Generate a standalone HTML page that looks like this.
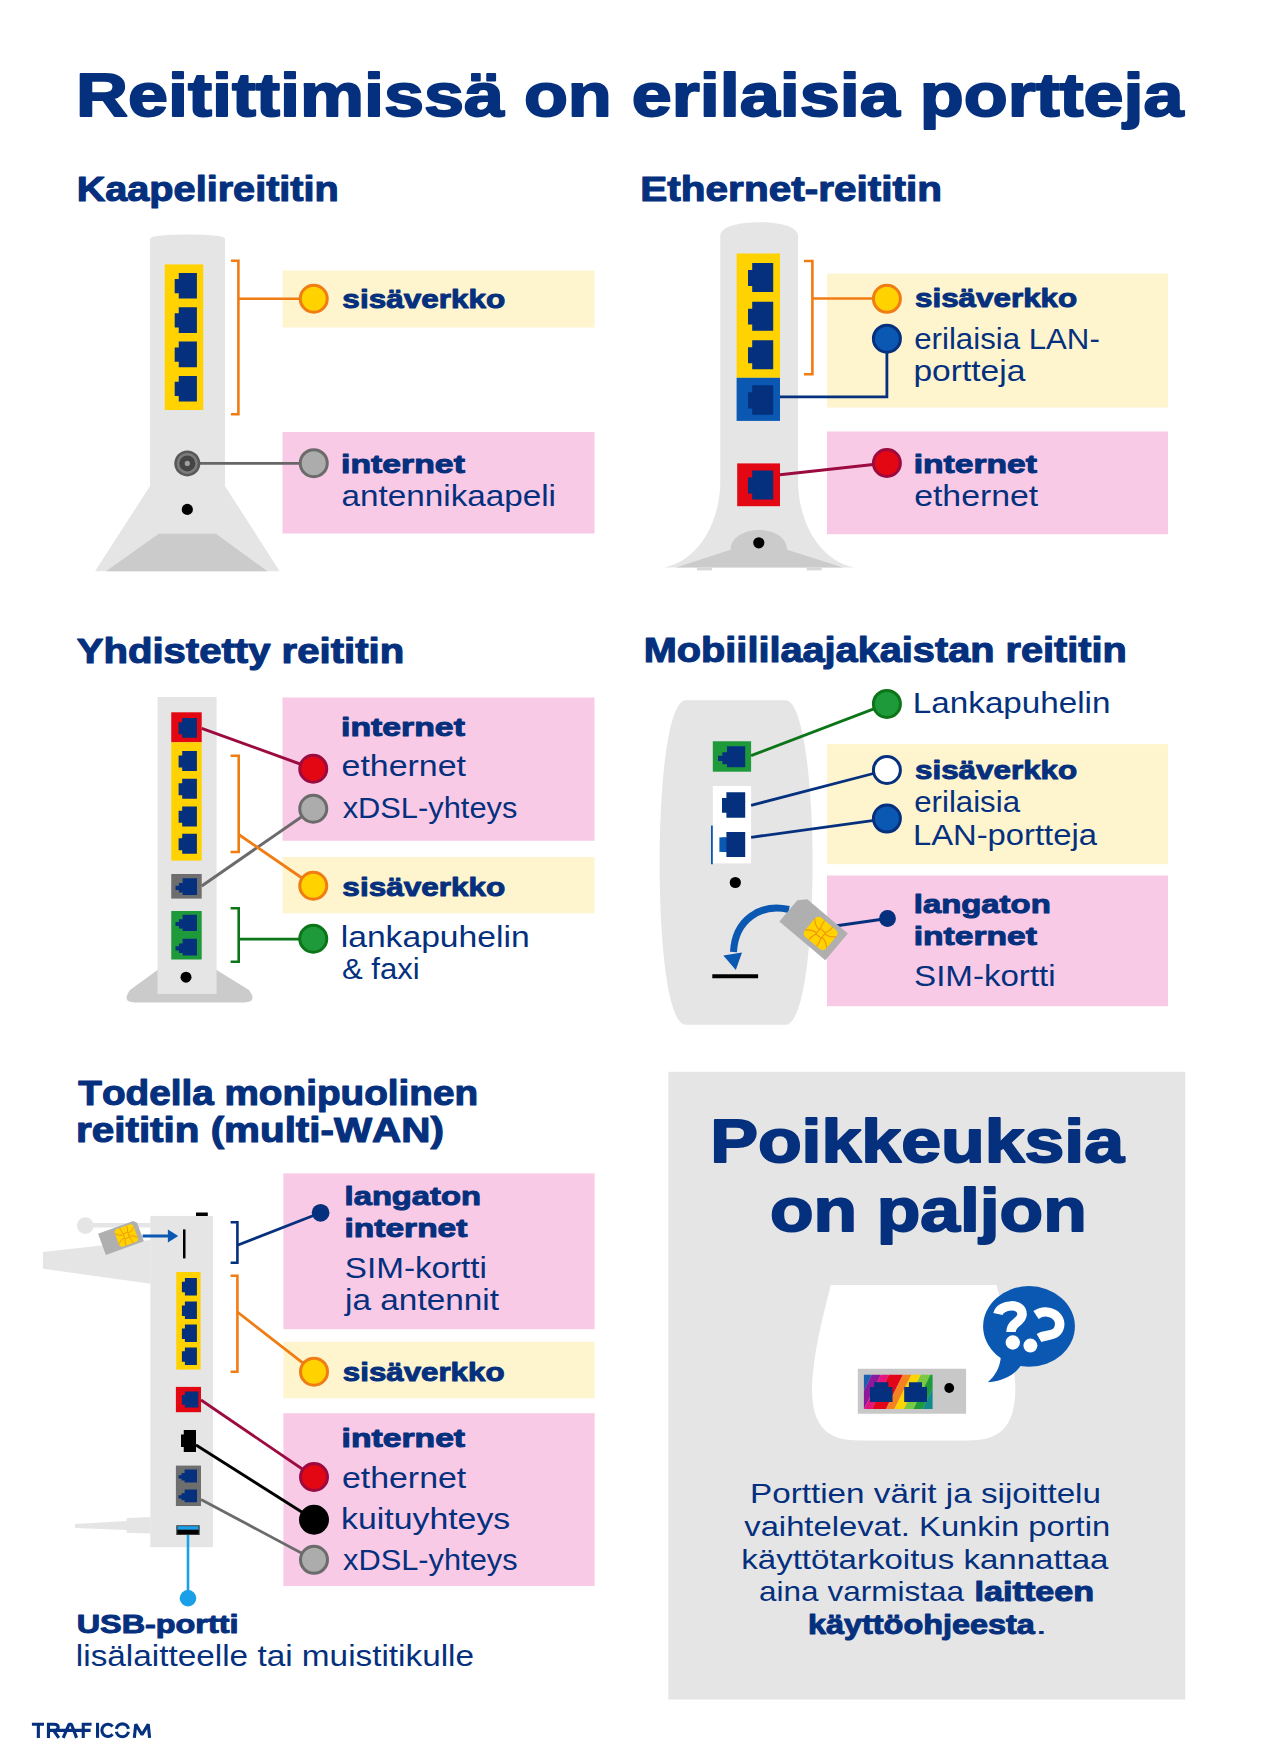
<!DOCTYPE html>
<html><head><meta charset="utf-8"><title>Reitittimissä on erilaisia portteja</title>
<style>
html,body{margin:0;padding:0;background:#fff;}
body{width:1280px;height:1760px;overflow:hidden;}
svg{display:block;font-family:"Liberation Sans",sans-serif;font-kerning:none;}
</style></head><body>
<svg width="1280" height="1760" viewBox="0 0 1280 1760">
<rect width="1280" height="1760" fill="#ffffff"/>
<text x="76.14" y="116.25" font-size="61.5" font-weight="bold" textLength="1107.46" lengthAdjust="spacingAndGlyphs" fill="#05307e" stroke="#05307e" stroke-width="1.9" stroke-linejoin="round" >Reitittimissä on erilaisia portteja</text>
<text x="76.65" y="200.55" font-size="34.2" font-weight="bold" textLength="262.16" lengthAdjust="spacingAndGlyphs" fill="#05307e" stroke="#05307e" stroke-width="1.1" stroke-linejoin="round" >Kaapelireititin</text>
<text x="640.34" y="200.55" font-size="34.2" font-weight="bold" textLength="301.62" lengthAdjust="spacingAndGlyphs" fill="#05307e" stroke="#05307e" stroke-width="1.1" stroke-linejoin="round" >Ethernet-reititin</text>
<text x="76.66" y="662.85" font-size="34.2" font-weight="bold" textLength="327.47" lengthAdjust="spacingAndGlyphs" fill="#05307e" stroke="#05307e" stroke-width="1.1" stroke-linejoin="round" >Yhdistetty reititin</text>
<text x="643.80" y="662.35" font-size="34.2" font-weight="bold" textLength="482.92" lengthAdjust="spacingAndGlyphs" fill="#05307e" stroke="#05307e" stroke-width="1.1" stroke-linejoin="round" >Mobiililaajakaistan reititin</text>
<text x="78.32" y="1104.85" font-size="34.2" font-weight="bold" textLength="399.73" lengthAdjust="spacingAndGlyphs" fill="#05307e" stroke="#05307e" stroke-width="1.1" stroke-linejoin="round" >Todella monipuolinen</text>
<text x="76.09" y="1141.65" font-size="34.2" font-weight="bold" textLength="367.77" lengthAdjust="spacingAndGlyphs" fill="#05307e" stroke="#05307e" stroke-width="1.1" stroke-linejoin="round" >reititin (multi-WAN)</text>
<rect x="282.50" y="270.50" width="312.00" height="57.00" fill="#fef5cf"/>
<rect x="282.50" y="432.00" width="312.00" height="101.50" fill="#f8cae6"/>
<path d="M150,239 Q150,234.5 187.5,234.5 Q225,234.5 225,239 V486 L279.7,571.3 H95 L150,486 Z" fill="#e5e5e5"/>
<path d="M158.75,533.8 H216 L267.5,571.3 H106 Z" fill="#cbcbcb"/>
<rect x="164.75" y="264.40" width="38.50" height="145.60" fill="#ffd200"/>
<path d="M178.75,273.00 H196.90 V298.60 H178.75 V293.22 H174.70 V278.89 H178.75 Z" fill="#05307e"/>
<path d="M178.75,307.30 H196.90 V332.90 H178.75 V327.52 H174.70 V313.19 H178.75 Z" fill="#05307e"/>
<path d="M178.75,341.60 H196.90 V367.20 H178.75 V361.82 H174.70 V347.49 H178.75 Z" fill="#05307e"/>
<path d="M178.75,375.90 H196.90 V401.50 H178.75 V396.12 H174.70 V381.79 H178.75 Z" fill="#05307e"/>
<path d="M231.00,260.70 L238.40,260.70 L238.40,414.30 L231.00,414.30" fill="none" stroke="#f07c14" stroke-width="2.6" />
<path d="M238.40,298.75 L313.75,298.75" fill="none" stroke="#f07c14" stroke-width="2.6" />
<circle cx="313.75" cy="298.75" r="13.50" fill="#ffd200" stroke="#f07c14" stroke-width="3"/>
<path d="M195.00,463.40 L313.75,463.40" fill="none" stroke="#666666" stroke-width="2.6" />
<circle cx="187.30" cy="463.40" r="13.00" fill="#595959"/>
<circle cx="187.30" cy="463.40" r="10.50" fill="#7d7d7d"/>
<circle cx="187.30" cy="463.40" r="8.00" fill="#454545"/>
<circle cx="187.30" cy="463.40" r="2.60" fill="#a0a0a0"/>
<circle cx="313.75" cy="463.20" r="13.50" fill="#acacac" stroke="#6b6b6b" stroke-width="3"/>
<circle cx="187.30" cy="509.40" r="5.60" fill="#000"/>
<text x="342.39" y="307.75" font-size="26.5" font-weight="bold" textLength="162.84" lengthAdjust="spacingAndGlyphs" fill="#05307e" stroke="#05307e" stroke-width="1.0" stroke-linejoin="round" >sisäverkko</text>
<text x="341.14" y="473.25" font-size="26.5" font-weight="bold" textLength="123.77" lengthAdjust="spacingAndGlyphs" fill="#05307e" stroke="#05307e" stroke-width="1.0" stroke-linejoin="round" >internet</text>
<text x="341.59" y="506.25" font-size="29.2" font-weight="normal" textLength="214.40" lengthAdjust="spacingAndGlyphs" fill="#05307e" >antennikaapeli</text>
<rect x="827.00" y="273.50" width="341.00" height="134.10" fill="#fef5cf"/>
<rect x="827.00" y="431.50" width="341.00" height="102.70" fill="#f8cae6"/>
<path d="M720.3,236 C720.3,226 740,222.2 759.2,222.2 C778.4,222.2 798.1,226 798.1,236 V481 C798.1,520 818,560 854.4,567.6 H664 C700.4,560 720.3,520 720.3,481 Z" fill="#e5e5e5"/>
<path d="M676,567.6 L730.6,549.8 C730.6,537 745,530 758.8,530 C772.6,530 787,537 787,549.8 L843,567.6 Z" fill="#cbcbcb"/>
<rect x="697.00" y="567.60" width="15.00" height="2.80" fill="#d8d8d8"/>
<rect x="806.60" y="567.60" width="15.10" height="2.80" fill="#d8d8d8"/>
<circle cx="758.80" cy="542.80" r="5.60" fill="#000"/>
<rect x="736.60" y="253.50" width="43.40" height="124.30" fill="#ffd200"/>
<path d="M752.20,263.00 H773.20 V292.00 H752.20 V285.91 H748.00 V269.96 H752.20 Z" fill="#05307e"/>
<path d="M752.20,301.70 H773.20 V330.70 H752.20 V324.61 H748.00 V308.66 H752.20 Z" fill="#05307e"/>
<path d="M752.20,340.30 H773.20 V369.30 H752.20 V363.21 H748.00 V347.26 H752.20 Z" fill="#05307e"/>
<rect x="736.60" y="377.80" width="43.40" height="43.10" fill="#0b58b3"/>
<path d="M752.20,385.30 H773.20 V414.70 H752.20 V408.53 H748.00 V392.36 H752.20 Z" fill="#05307e"/>
<path d="M804.00,261.00 L812.40,261.00 L812.40,374.30 L804.00,374.30" fill="none" stroke="#f07c14" stroke-width="2.6" />
<path d="M812.40,298.50 L886.90,298.50" fill="none" stroke="#f07c14" stroke-width="2.6" />
<path d="M780.00,396.90 L886.90,396.90 L886.90,338.70" fill="none" stroke="#05307e" stroke-width="2.8" />
<circle cx="886.90" cy="298.80" r="13.50" fill="#ffd200" stroke="#f07c14" stroke-width="3"/>
<circle cx="886.90" cy="338.70" r="13.50" fill="#0b58b3" stroke="#05307e" stroke-width="3"/>
<rect x="737.20" y="463.40" width="42.80" height="42.80" fill="#e30613"/>
<path d="M752.20,470.40 H773.20 V499.50 H752.20 V493.39 H748.00 V477.38 H752.20 Z" fill="#05307e"/>
<path d="M780.00,474.70 L886.90,463.00" fill="none" stroke="#9c0b3f" stroke-width="3" />
<circle cx="886.90" cy="463.00" r="13.50" fill="#e30613" stroke="#9c0b3f" stroke-width="3"/>
<text x="915.00" y="307.30" font-size="26.5" font-weight="bold" textLength="162.23" lengthAdjust="spacingAndGlyphs" fill="#05307e" stroke="#05307e" stroke-width="1.0" stroke-linejoin="round" >sisäverkko</text>
<text x="914.27" y="348.60" font-size="29.2" font-weight="normal" textLength="185.51" lengthAdjust="spacingAndGlyphs" fill="#05307e" >erilaisia LAN-</text>
<text x="913.44" y="381.00" font-size="29.2" font-weight="normal" textLength="111.86" lengthAdjust="spacingAndGlyphs" fill="#05307e" >portteja</text>
<text x="913.75" y="473.20" font-size="26.5" font-weight="bold" textLength="123.15" lengthAdjust="spacingAndGlyphs" fill="#05307e" stroke="#05307e" stroke-width="1.0" stroke-linejoin="round" >internet</text>
<text x="914.16" y="506.00" font-size="29.2" font-weight="normal" textLength="124.08" lengthAdjust="spacingAndGlyphs" fill="#05307e" >ethernet</text>
<rect x="282.50" y="697.50" width="312.00" height="143.25" fill="#f8cae6"/>
<rect x="282.50" y="857.00" width="312.00" height="56.25" fill="#fef5cf"/>
<path d="M157.5,970 L130,990 Q121,1002.5 135,1002.5 H244 Q258,1002.5 249,990 L216.6,970 Z" fill="#cbcbcb"/>
<rect x="157.50" y="697.00" width="59.10" height="297.00" fill="#e5e5e5"/>
<rect x="171.25" y="712.30" width="30.45" height="30.00" fill="#e30613"/>
<path d="M182.20,718.00 H196.90 V737.70 H182.20 V734.15 H178.60 V722.33 H182.20 Z" fill="#05307e"/>
<rect x="171.25" y="742.30" width="30.45" height="118.30" fill="#ffd200"/>
<path d="M182.20,751.00 H196.90 V771.00 H182.20 V767.40 H178.60 V755.40 H182.20 Z" fill="#05307e"/>
<path d="M182.20,778.75 H196.90 V798.75 H182.20 V795.15 H178.60 V783.15 H182.20 Z" fill="#05307e"/>
<path d="M182.20,806.40 H196.90 V826.40 H182.20 V822.80 H178.60 V810.80 H182.20 Z" fill="#05307e"/>
<path d="M182.20,833.75 H196.90 V853.75 H182.20 V850.15 H178.60 V838.15 H182.20 Z" fill="#05307e"/>
<rect x="171.25" y="874.00" width="30.45" height="24.60" fill="#6e6e6e"/>
<path d="M182.59,878.30 H197.00 V895.00 H182.59 V892.50 H178.94 V889.99 H175.50 V885.81 H178.94 V882.98 H182.59 Z" fill="#05307e"/>
<rect x="171.25" y="911.00" width="30.45" height="48.50" fill="#1f9a3b"/>
<path d="M182.59,914.70 H197.00 V931.00 H182.59 V928.56 H178.94 V926.11 H175.50 V922.04 H178.94 V919.26 H182.59 Z" fill="#05307e"/>
<path d="M182.59,938.75 H197.00 V955.60 H182.59 V953.07 H178.94 V950.55 H175.50 V946.33 H178.94 V943.47 H182.59 Z" fill="#05307e"/>
<circle cx="186.00" cy="977.20" r="5.50" fill="#000"/>
<path d="M230.60,755.70 L238.70,755.70 L238.70,852.00 L230.60,852.00" fill="none" stroke="#f07c14" stroke-width="2.6" />
<path d="M230.60,908.20 L238.70,908.20 L238.70,961.70 L230.60,961.70" fill="none" stroke="#0b7518" stroke-width="2.6" />
<path d="M201.70,728.30 L313.25,768.75" fill="none" stroke="#9c0b3f" stroke-width="3" />
<path d="M201.70,886.00 L313.25,808.75" fill="none" stroke="#6b6b6b" stroke-width="3" />
<path d="M238.70,834.50 L313.25,885.75" fill="none" stroke="#f07c14" stroke-width="2.8" />
<path d="M238.70,939.20 L313.25,939.20" fill="none" stroke="#0b7518" stroke-width="2.8" />
<circle cx="313.25" cy="768.75" r="13.50" fill="#e30613" stroke="#9c0b3f" stroke-width="3"/>
<circle cx="313.25" cy="808.75" r="13.50" fill="#acacac" stroke="#6b6b6b" stroke-width="3"/>
<circle cx="313.25" cy="885.75" r="13.50" fill="#ffd200" stroke="#f07c14" stroke-width="3"/>
<circle cx="313.25" cy="938.75" r="13.50" fill="#1f9a3b" stroke="#0b7518" stroke-width="3"/>
<text x="341.14" y="735.75" font-size="26.5" font-weight="bold" textLength="123.77" lengthAdjust="spacingAndGlyphs" fill="#05307e" stroke="#05307e" stroke-width="1.0" stroke-linejoin="round" >internet</text>
<text x="341.56" y="776.25" font-size="29.2" font-weight="normal" textLength="124.44" lengthAdjust="spacingAndGlyphs" fill="#05307e" >ethernet</text>
<text x="342.65" y="817.50" font-size="29.2" font-weight="normal" textLength="174.71" lengthAdjust="spacingAndGlyphs" fill="#05307e" >xDSL-yhteys</text>
<text x="342.39" y="895.75" font-size="26.5" font-weight="bold" textLength="162.84" lengthAdjust="spacingAndGlyphs" fill="#05307e" stroke="#05307e" stroke-width="1.0" stroke-linejoin="round" >sisäverkko</text>
<text x="340.73" y="947.00" font-size="29.2" font-weight="normal" textLength="188.95" lengthAdjust="spacingAndGlyphs" fill="#05307e" >lankapuhelin</text>
<text x="341.91" y="978.75" font-size="29.2" font-weight="normal" textLength="77.69" lengthAdjust="spacingAndGlyphs" fill="#05307e" >&amp; faxi</text>
<rect x="827.00" y="744.10" width="341.00" height="120.10" fill="#fef5cf"/>
<rect x="827.00" y="875.50" width="341.00" height="130.70" fill="#f8cae6"/>
<path d="M686,700.2 H785.5 C804,700.2 812.6,790 812.6,862 C812.6,940 804,1024.8 785.5,1024.8 H686 C667,1024.8 659.6,940 659.6,862 C659.6,790 667,700.2 686,700.2 Z" fill="#e5e5e5"/>
<rect x="712.80" y="741.25" width="38.30" height="30.45" fill="#1f9a3b"/>
<path d="M726.98,746.25 H745.20 V767.30 H726.98 V764.14 H722.35 V760.99 H718.00 V755.72 H722.35 V752.14 H726.98 Z" fill="#05307e"/>
<rect x="712.80" y="786.00" width="38.30" height="77.40" fill="#ffffff"/>
<path d="M726.40,792.30 H745.20 V817.80 H726.40 V812.70 H722.00 V797.91 H726.40 Z" fill="#05307e"/>
<path d="M726.40,831.90 H745.20 V856.90 H726.40 V851.90 H722.00 V837.40 H726.40 Z" fill="#05307e"/>
<rect x="719.40" y="837.40" width="7.00" height="14.50" fill="#0b58b3"/>
<path d="M711.90,825.60 L711.90,864.20" fill="none" stroke="#0b58b3" stroke-width="1.8" />
<circle cx="735.30" cy="882.50" r="5.60" fill="#000"/>
<path d="M712.30,976.25 L758.10,976.25" fill="none" stroke="#000" stroke-width="4" />
<path d="M789,909.5 C760,903 735,920 733.5,952" fill="none" stroke="#0b58b3" stroke-width="7"/>
<path d="M723.3,955.5 L742,952.5 L735.8,970 Z" fill="#0b58b3"/>
<path d="M751.10,755.60 L886.90,703.90" fill="none" stroke="#0b7518" stroke-width="2.8" />
<path d="M751.10,805.30 L886.90,770.00" fill="none" stroke="#05307e" stroke-width="2.8" />
<path d="M751.10,837.30 L886.90,818.60" fill="none" stroke="#05307e" stroke-width="2.8" />
<path d="M835.00,926.00 L887.50,918.50" fill="none" stroke="#05307e" stroke-width="2.8" />
<circle cx="886.90" cy="703.90" r="13.50" fill="#1f9a3b" stroke="#0b7518" stroke-width="3"/>
<circle cx="886.90" cy="770.00" r="13.50" fill="#ffffff" stroke="#05307e" stroke-width="3"/>
<circle cx="886.90" cy="818.60" r="13.50" fill="#0b58b3" stroke="#05307e" stroke-width="3"/>
<circle cx="887.50" cy="918.50" r="8.40" fill="#05307e"/>
<g transform="translate(813.6,927.5) rotate(40)">
<path d="M-23.0,-17.5 H30.0 V17.5 H-30.0 V-10.5 Z" fill="#afafaf"/>
<rect x="-4.80" y="-12.50" width="28" height="25" rx="4.50" fill="#ffd200"/>
<g stroke="#f0960f" stroke-width="1.12" fill="none">
<rect x="5.84" y="-3.50" width="6.72" height="7.00"/>
<path d="M5.84,-3.50 Q3.60,-10.00 4.16,-12.50"/>
<path d="M5.84,-2.00 Q-0.60,-2.50 -4.80,-7.50"/>
<path d="M5.84,3.50 Q3.60,10.00 4.16,12.50"/>
<path d="M5.84,2.00 Q-0.60,2.50 -4.80,7.50"/>
<path d="M12.56,-3.50 Q14.80,-10.00 14.24,-12.50"/>
<path d="M12.56,-2.00 Q19.00,-2.50 23.20,-7.50"/>
<path d="M12.56,3.50 Q14.80,10.00 14.24,12.50"/>
<path d="M12.56,2.00 Q19.00,2.50 23.20,7.50"/>
</g>
</g>
<text x="912.88" y="713.20" font-size="29.2" font-weight="normal" textLength="197.58" lengthAdjust="spacingAndGlyphs" fill="#05307e" >Lankapuhelin</text>
<text x="915.00" y="778.50" font-size="26.5" font-weight="bold" textLength="162.23" lengthAdjust="spacingAndGlyphs" fill="#05307e" stroke="#05307e" stroke-width="1.0" stroke-linejoin="round" >sisäverkko</text>
<text x="914.28" y="811.60" font-size="29.2" font-weight="normal" textLength="105.72" lengthAdjust="spacingAndGlyphs" fill="#05307e" >erilaisia</text>
<text x="912.91" y="844.50" font-size="29.2" font-weight="normal" textLength="184.09" lengthAdjust="spacingAndGlyphs" fill="#05307e" >LAN-portteja</text>
<text x="913.81" y="912.90" font-size="26.5" font-weight="bold" textLength="136.93" lengthAdjust="spacingAndGlyphs" fill="#05307e" stroke="#05307e" stroke-width="1.0" stroke-linejoin="round" >langaton</text>
<text x="913.75" y="945.30" font-size="26.5" font-weight="bold" textLength="123.15" lengthAdjust="spacingAndGlyphs" fill="#05307e" stroke="#05307e" stroke-width="1.0" stroke-linejoin="round" >internet</text>
<text x="914.10" y="986.00" font-size="29.2" font-weight="normal" textLength="141.53" lengthAdjust="spacingAndGlyphs" fill="#05307e" >SIM-kortti</text>
<rect x="283.40" y="1173.40" width="311.20" height="155.80" fill="#f8cae6"/>
<rect x="283.40" y="1341.70" width="311.20" height="56.60" fill="#fef5cf"/>
<rect x="283.40" y="1413.20" width="311.20" height="172.80" fill="#f8cae6"/>
<path d="M43,1252 L150.5,1240 V1283.75 L43,1268.75 Z" fill="#e5e5e5"/>
<circle cx="85.30" cy="1225.60" r="8.40" fill="#e5e5e5"/>
<rect x="85.30" y="1223.00" width="65.20" height="4.50" fill="#e5e5e5"/>
<path d="M75,1524 L126.6,1521 V1518 L150.5,1517 V1533.5 L126.6,1532.75 V1530 L75,1528 Z" fill="#e5e5e5"/>
<rect x="150.30" y="1215.90" width="62.70" height="331.30" fill="#e5e5e5"/>
<rect x="196.00" y="1212.50" width="11.80" height="3.50" fill="#000"/>
<g transform="translate(120.95,1237.5) rotate(-20)">
<path d="M-20.2,-11.4 H17.2 L20.2,-8.4 V11.4 H-20.2 Z" fill="#afafaf"/>
<rect x="-4.25" y="-9.25" width="20" height="18.5" rx="3.33" fill="#ffd200"/>
<g stroke="#f0960f" stroke-width="0.83" fill="none">
<rect x="3.35" y="-2.59" width="4.80" height="5.18"/>
<path d="M3.35,-2.59 Q1.75,-7.40 2.15,-9.25"/>
<path d="M3.35,-1.48 Q-1.25,-1.85 -4.25,-5.55"/>
<path d="M3.35,2.59 Q1.75,7.40 2.15,9.25"/>
<path d="M3.35,1.48 Q-1.25,1.85 -4.25,5.55"/>
<path d="M8.15,-2.59 Q9.75,-7.40 9.35,-9.25"/>
<path d="M8.15,-1.48 Q12.75,-1.85 15.75,-5.55"/>
<path d="M8.15,2.59 Q9.75,7.40 9.35,9.25"/>
<path d="M8.15,1.48 Q12.75,1.85 15.75,5.55"/>
</g>
</g>
<path d="M142.60,1236.00 L170.00,1236.00" fill="none" stroke="#0b58b3" stroke-width="3" />
<path d="M167.9,1229.4 L178.2,1236 L167.9,1242.6 Z" fill="#0b58b3"/>
<rect x="183.00" y="1229.40" width="2.50" height="29.00" fill="#000"/>
<rect x="176.25" y="1272.00" width="24.35" height="97.60" fill="#ffd200"/>
<path d="M184.90,1278.00 H196.90 V1295.50 H184.90 V1292.35 H181.90 V1281.85 H184.90 Z" fill="#05307e"/>
<path d="M184.90,1301.60 H196.90 V1319.10 H184.90 V1315.95 H181.90 V1305.45 H184.90 Z" fill="#05307e"/>
<path d="M184.90,1324.60 H196.90 V1342.10 H184.90 V1338.95 H181.90 V1328.45 H184.90 Z" fill="#05307e"/>
<path d="M184.90,1347.50 H196.90 V1365.00 H184.90 V1361.85 H181.90 V1351.35 H184.90 Z" fill="#05307e"/>
<rect x="175.90" y="1386.90" width="25.10" height="25.30" fill="#e30613"/>
<path d="M184.90,1391.60 H198.40 V1407.50 H184.90 V1404.64 H181.90 V1395.10 H184.90 Z" fill="#05307e"/>
<path d="M183.75,1430.00 H196.00 V1452.00 H183.75 V1446.94 H181.00 V1434.62 H183.75 Z" fill="#000"/>
<rect x="175.90" y="1465.60" width="25.10" height="40.40" fill="#6e6e6e"/>
<path d="M184.60,1469.40 H197.00 V1482.50 H184.60 V1480.54 H181.46 V1478.57 H178.50 V1475.30 H181.46 V1473.07 H184.60 Z" fill="#05307e"/>
<path d="M184.60,1489.60 H197.00 V1502.20 H184.60 V1500.31 H181.46 V1498.42 H178.50 V1495.27 H181.46 V1493.13 H184.60 Z" fill="#05307e"/>
<rect x="176.25" y="1525.25" width="23.45" height="9.75" fill="#3a3a3a"/>
<rect x="177.50" y="1526.20" width="21.00" height="3.60" fill="#1aa0e8"/>
<rect x="177.50" y="1529.80" width="21.00" height="4.20" fill="#000"/>
<path d="M188.00,1535.00 L188.00,1598.00" fill="none" stroke="#1aa0e8" stroke-width="2.6" />
<circle cx="188.00" cy="1598.25" r="8.30" fill="#1aa0e8"/>
<path d="M230.60,1222.30 L237.40,1222.30 L237.40,1262.70 L230.60,1262.70" fill="none" stroke="#05307e" stroke-width="2.6" />
<path d="M230.60,1275.70 L237.40,1275.70 L237.40,1371.70 L230.60,1371.70" fill="none" stroke="#f07c14" stroke-width="2.6" />
<path d="M237.40,1245.30 L320.60,1212.80" fill="none" stroke="#05307e" stroke-width="2.8" />
<circle cx="320.60" cy="1212.80" r="8.90" fill="#05307e"/>
<path d="M237.40,1312.00 L314.00,1371.70" fill="none" stroke="#f07c14" stroke-width="2.8" />
<path d="M201.00,1400.00 L314.00,1477.00" fill="none" stroke="#9c0b3f" stroke-width="2.8" />
<path d="M196.00,1445.00 L314.00,1519.75" fill="none" stroke="#000" stroke-width="2.8" />
<path d="M201.00,1499.40 L314.00,1559.80" fill="none" stroke="#6b6b6b" stroke-width="2.8" />
<circle cx="314.00" cy="1371.70" r="13.50" fill="#ffd200" stroke="#f07c14" stroke-width="3"/>
<circle cx="314.00" cy="1477.00" r="13.50" fill="#e30613" stroke="#9c0b3f" stroke-width="3"/>
<circle cx="314.00" cy="1519.75" r="13.50" fill="#000" stroke="#000" stroke-width="3"/>
<circle cx="314.00" cy="1559.80" r="13.50" fill="#acacac" stroke="#6b6b6b" stroke-width="3"/>
<text x="344.62" y="1204.60" font-size="26.5" font-weight="bold" textLength="136.31" lengthAdjust="spacingAndGlyphs" fill="#05307e" stroke="#05307e" stroke-width="1.0" stroke-linejoin="round" >langaton</text>
<text x="344.56" y="1237.30" font-size="26.5" font-weight="bold" textLength="122.85" lengthAdjust="spacingAndGlyphs" fill="#05307e" stroke="#05307e" stroke-width="1.0" stroke-linejoin="round" >internet</text>
<text x="344.89" y="1278.20" font-size="29.2" font-weight="normal" textLength="142.05" lengthAdjust="spacingAndGlyphs" fill="#05307e" >SIM-kortti</text>
<text x="345.11" y="1310.00" font-size="29.2" font-weight="normal" textLength="153.83" lengthAdjust="spacingAndGlyphs" fill="#05307e" >ja antennit</text>
<text x="342.80" y="1380.70" font-size="26.5" font-weight="bold" textLength="161.72" lengthAdjust="spacingAndGlyphs" fill="#05307e" stroke="#05307e" stroke-width="1.0" stroke-linejoin="round" >sisäverkko</text>
<text x="341.55" y="1446.80" font-size="26.5" font-weight="bold" textLength="123.56" lengthAdjust="spacingAndGlyphs" fill="#05307e" stroke="#05307e" stroke-width="1.0" stroke-linejoin="round" >internet</text>
<text x="341.96" y="1488.00" font-size="29.2" font-weight="normal" textLength="124.29" lengthAdjust="spacingAndGlyphs" fill="#05307e" >ethernet</text>
<text x="341.12" y="1529.00" font-size="29.2" font-weight="normal" textLength="169.10" lengthAdjust="spacingAndGlyphs" fill="#05307e" >kuituyhteys</text>
<text x="343.05" y="1569.60" font-size="29.2" font-weight="normal" textLength="174.56" lengthAdjust="spacingAndGlyphs" fill="#05307e" >xDSL-yhteys</text>
<text x="76.66" y="1632.60" font-size="26.5" font-weight="bold" textLength="161.84" lengthAdjust="spacingAndGlyphs" fill="#05307e" stroke="#05307e" stroke-width="1.0" stroke-linejoin="round" >USB-portti</text>
<text x="75.85" y="1665.75" font-size="29.2" font-weight="normal" textLength="398.23" lengthAdjust="spacingAndGlyphs" fill="#05307e" >lisälaitteelle tai muistitikulle</text>
<rect x="668.40" y="1071.80" width="516.90" height="627.70" fill="#e5e5e5"/>
<text x="710.16" y="1162.45" font-size="61.5" font-weight="bold" textLength="413.83" lengthAdjust="spacingAndGlyphs" fill="#05307e" stroke="#05307e" stroke-width="1.9" stroke-linejoin="round" >Poikkeuksia</text>
<text x="769.97" y="1231.25" font-size="61.5" font-weight="bold" textLength="316.70" lengthAdjust="spacingAndGlyphs" fill="#05307e" stroke="#05307e" stroke-width="1.9" stroke-linejoin="round" >on paljon</text>
<path d="M830.8,1285 H996.5 C1005.3,1320 1013.3,1350 1015.3,1385 C1016.3,1430 997.3,1440.5 967.3,1440.5 H860 C830,1440.5 811,1430 812,1385 C814,1350 822,1320 830.8,1285 Z" fill="#ffffff"/>
<rect x="857.80" y="1368.75" width="108.30" height="45.00" fill="#c8c8c8"/>
<defs><clipPath id="rb"><rect x="863.9" y="1374.4" width="68.7" height="34.5"/></clipPath></defs>
<g clip-path="url(#rb)">
<path d="M840,1374.4 H872 L855,1408.9 H823 Z" fill="#1a5fb4"/>
<path d="M872,1374.4 H881 L864,1408.9 H855 Z" fill="#8a1a9b"/>
<path d="M881,1374.4 H889 L872,1408.9 H864 Z" fill="#e5157f"/>
<path d="M889,1374.4 H903 L886,1408.9 H872 Z" fill="#e3061b"/>
<path d="M903,1374.4 H911.4 L894.4,1408.9 H886 Z" fill="#f58220"/>
<path d="M911.4,1374.4 H921 L904,1408.9 H894.4 Z" fill="#ffd500"/>
<path d="M921,1374.4 H930.5 L913.5,1408.9 H904 Z" fill="#7ac943"/>
<path d="M930.5,1374.4 H939.5 L922.5,1408.9 H913.5 Z" fill="#1f9a3b"/>
<path d="M939.5,1374.4 H960 L943,1408.9 H922.5 Z" fill="#128a8a"/>
</g>
<path d="M874.2,1382.3 H888.3 V1387 H892.5 V1402 H870 V1387 H874.2 Z" fill="#05307e"/>
<path d="M908.9,1382.3 H922 V1387 H927 V1402 H904.2 V1387 H908.9 Z" fill="#05307e"/>
<circle cx="949.20" cy="1388.00" r="4.90" fill="#000"/>
<ellipse cx="1029" cy="1326.4" rx="45.9" ry="40.3" fill="#0b58b3"/>
<path d="M1001,1356 C1000,1368 995,1376 987.8,1382.3 C1003,1381 1015,1375 1022,1364 Z" fill="#0b58b3"/>
<path d="M998,1314 C1000,1304 1023,1302 1022,1315 C1021,1323 1011,1322 1011,1332" fill="none" stroke="#fff" stroke-width="9.5"/>
<circle cx="1012.80" cy="1342.50" r="7.20" fill="#fff"/>
<path d="M1036,1315 C1048,1307 1063,1316 1059,1328 C1056,1337 1046,1334 1039,1338" fill="none" stroke="#fff" stroke-width="9.5"/>
<circle cx="1030.40" cy="1345.60" r="7.00" fill="#fff"/>
<text x="750.07" y="1503.30" font-size="28" font-weight="normal" textLength="350.93" lengthAdjust="spacingAndGlyphs" fill="#05307e" >Porttien värit ja sijoittelu</text>
<text x="744.29" y="1536.20" font-size="28" font-weight="normal" textLength="365.94" lengthAdjust="spacingAndGlyphs" fill="#05307e" >vaihtelevat. Kunkin portin</text>
<text x="741.27" y="1568.70" font-size="28" font-weight="normal" textLength="367.23" lengthAdjust="spacingAndGlyphs" fill="#05307e" >käyttötarkoitus kannattaa</text>
<text x="759.06" y="1601.20" font-size="28" font-weight="normal" textLength="204.94" lengthAdjust="spacingAndGlyphs" fill="#05307e" >aina varmistaa</text>
<text x="974.62" y="1600.70" font-size="27" font-weight="bold" textLength="119.50" lengthAdjust="spacingAndGlyphs" fill="#05307e" stroke="#05307e" stroke-width="1.0" stroke-linejoin="round" >laitteen</text>
<text x="808.04" y="1633.60" font-size="27" font-weight="bold" textLength="226.76" lengthAdjust="spacingAndGlyphs" fill="#05307e" stroke="#05307e" stroke-width="1.0" stroke-linejoin="round" >käyttöohjeesta</text>
<text x="1034.68" y="1634.10" font-size="28" font-weight="normal" textLength="13.13" lengthAdjust="spacingAndGlyphs" fill="#05307e" >.</text>
<g fill="none" stroke="#05307e" stroke-width="3.1" stroke-linecap="butt">
<path d="M31.9,1724.25 H44 M38.35,1722.8 V1737.9"/>
<path d="M48.45,1722.8 V1737.9 M47,1724.25 H54 C59.6,1724.25 59.6,1730.4 54,1730.4 M48,1730.4 H90.6 M53.6,1730.4 L58.8,1737.9"/>
<path d="M63.2,1737.9 L69,1724.3 H71.4 L76.6,1737.9" stroke-linejoin="bevel"/>
<path d="M81.8,1724.25 H91.6 M83.25,1722.8 V1737.9"/>
<path d="M97.55,1722.8 V1737.9"/>
<path d="M112.6,1726.4 A6.1,6.1 0 1 0 112.6,1734.3"/>
<path d="M116.4,1728.9 A6.1,6.1 0 0 1 128.4,1728.9 M128.4,1731.8 A6.1,6.1 0 0 1 116.4,1731.8"/>
<path d="M134.3,1737.9 L135.8,1724.2 L142,1734.8 L148.2,1724.2 L149.6,1737.9" stroke-linejoin="bevel"/>
</g>
</svg>
</body></html>
